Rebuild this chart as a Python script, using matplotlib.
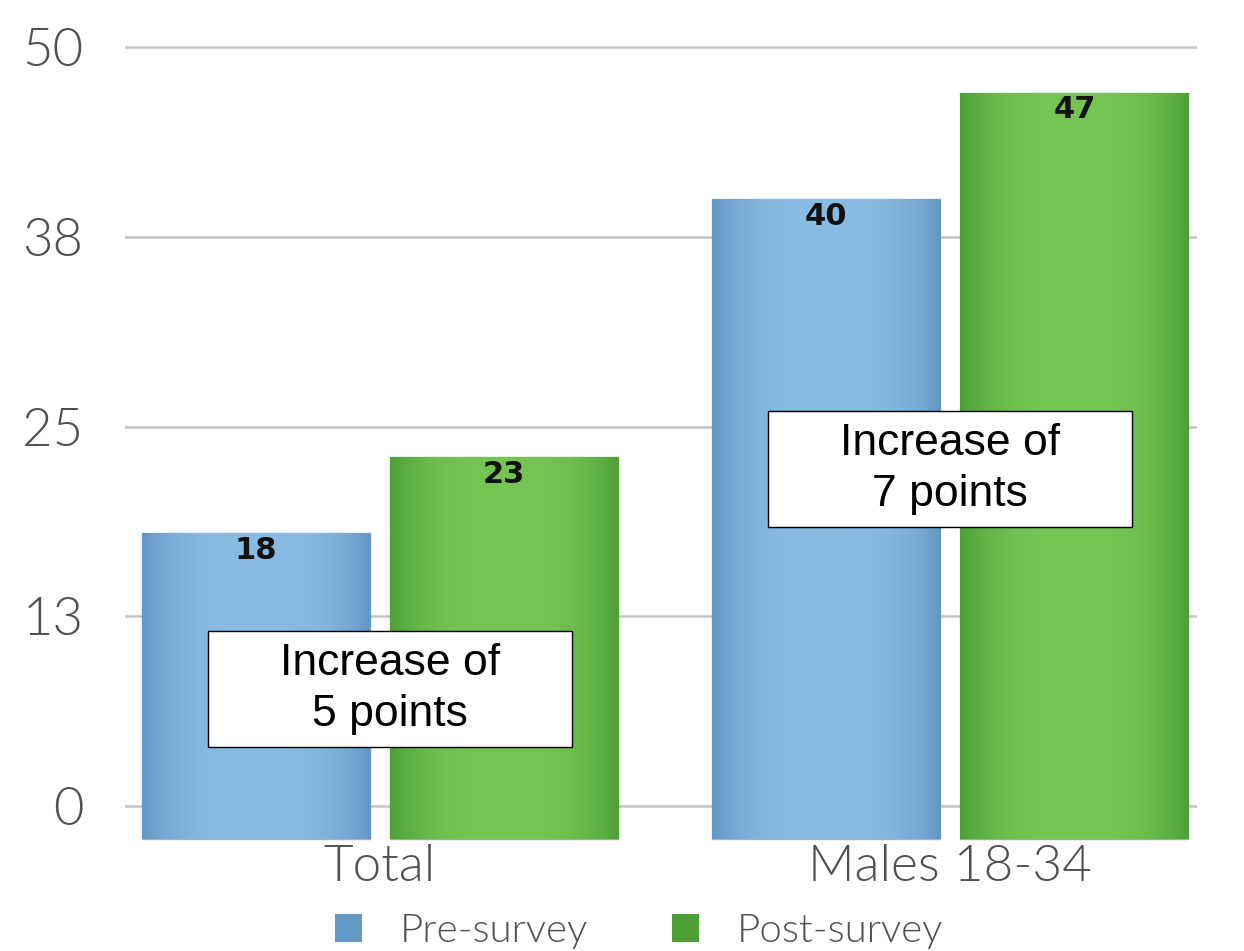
import numpy as np
import matplotlib
matplotlib.use("Agg")
import matplotlib.pyplot as plt
from matplotlib.patches import Rectangle, Patch

categories = ["Total", "Males 18-34"]
series_names = ["Pre-survey", "Post-survey"]
pre_values = [18, 40]
post_values = [23, 47]
ytick_values = [0, 12.5, 25, 37.5, 50]
ytick_labels = ["0", "13", "25", "38", "50"]
annotations = ["Increase of\n5 points", "Increase of\n7 points"]

blue_mid, blue_edge = np.array([136, 188, 226]) / 255, np.array([100, 152, 196]) / 255
green_mid, green_edge = np.array([118, 196, 84]) / 255, np.array([76, 160, 54]) / 255

fig = plt.figure(figsize=(12.44, 9.51), dpi=100)
ax = fig.add_axes([0.1005, 0.1125, 0.8617, 0.8461])

x = np.arange(len(categories))
offset = 0.218
width = 0.40
base = 2.2

def gradient_bar(bars, mid, edge):
    for b in bars:
        b.set_facecolor("none")
        b.set_edgecolor((edge * 0.85).tolist() + [0.6])
        b.set_linewidth(1.0)
        x0, y0 = b.get_x(), b.get_y()
        w, h = b.get_width(), b.get_height()
        t = np.linspace(-1, 1, 200)
        prof = np.abs(t) ** 3
        img = mid[None, :] * (1 - prof[:, None]) + edge[None, :] * prof[:, None]
        img = img[None, :, :]
        im = ax.imshow(img, extent=(x0, x0 + w, y0, y0 + h), aspect="auto",
                       zorder=2, interpolation="bilinear")
        im.set_clip_path(b)

pre_bars = ax.bar(x - offset, np.array(pre_values) + base, width, bottom=-base, zorder=2)
post_bars = ax.bar(x + offset, np.array(post_values) + base, width, bottom=-base, zorder=2)
gradient_bar(pre_bars, blue_mid, blue_edge)
gradient_bar(post_bars, green_mid, green_edge)
ax.set_xlim(-0.447, 1.433)
ax.set_ylim(-2.5, 50.5)

for bars, vals in [(pre_bars, pre_values), (post_bars, post_values)]:
    for b, v in zip(bars, vals):
        ax.annotate(str(v), (b.get_x() + b.get_width() / 2, v), xytext=(0, -2),
                    textcoords="offset points", ha="center", va="top",
                    fontsize=22, fontweight="bold", family="DejaVu Sans",
                    color="#111111", zorder=5)

ax.set_yticks(ytick_values)
ax.set_yticklabels(ytick_labels)
ax.set_xticks(x)
ax.set_xticklabels(categories)
ax.tick_params(axis="y", length=0, pad=30, labelsize=38, labelcolor="#505050")
ax.tick_params(axis="x", length=0, pad=0, labelsize=37, labelcolor="#505050")
for lab in ax.get_yticklabels() + ax.get_xticklabels():
    lab.set_family(["Lato", "DejaVu Sans"])
    lab.set_fontweight(300)

ax.yaxis.grid(True, color="#c4c4c4", linewidth=1.8, zorder=0)
ax.set_axisbelow(True)
for s in ax.spines.values():
    s.set_visible(False)

# annotation boxes
boxes = [(-0.302, 3.89, 0.639, 7.64), (0.681, 18.4, 0.638, 7.6)]
for (bx, by, bw, bh), txt in zip(boxes, annotations):
    ax.add_patch(Rectangle((bx, by), bw, bh, facecolor="white", edgecolor="black",
                           linewidth=1.0, zorder=6))
    ax.text(bx + bw / 2, by + bh / 2, txt, ha="center", va="center",
            fontsize=32, family="Liberation Sans", color="black", zorder=7,
            linespacing=1.3)

handles = [Patch(facecolor=blue_edge, edgecolor="none"),
           Patch(facecolor=green_edge, edgecolor="none")]
leg = fig.legend(handles, series_names, loc="center",
                 bbox_to_anchor=(639 / 1244, 1 - 931 / 951), ncol=2, frameon=False,
                 prop={"family": ["Lato", "DejaVu Sans"], "weight": 300, "size": 29},
                 handlelength=0.67, handleheight=0.67, handletextpad=0.94,
                 columnspacing=2.1, labelcolor="#505050")

fig.savefig("out.png", dpi=100)
